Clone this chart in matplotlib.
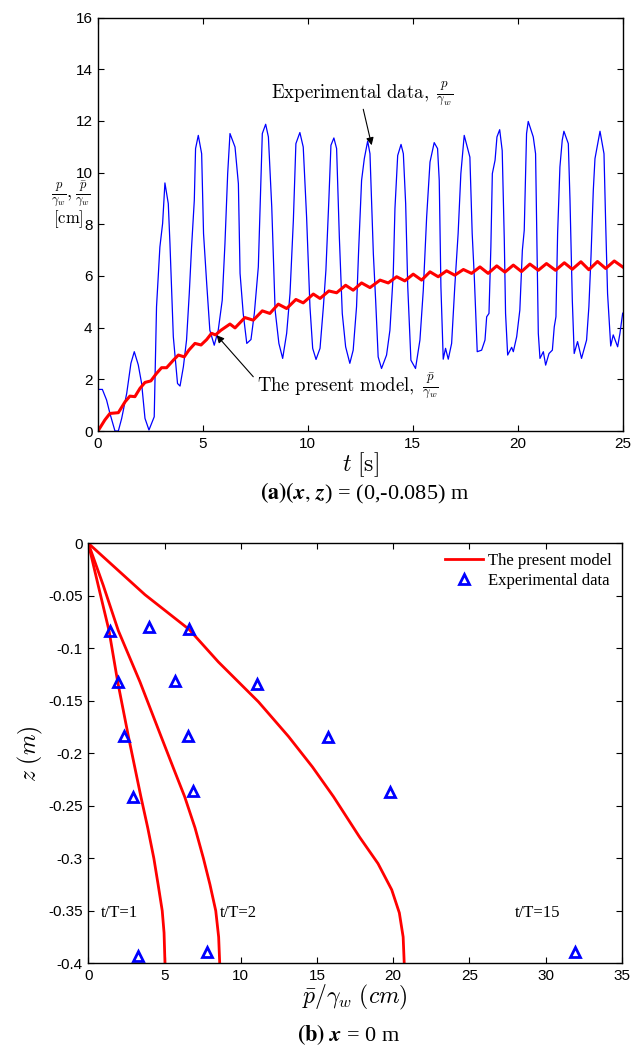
"""
Pore pressure response: (a) time history at (x, z) = (0, -0.085) m,
(b) vertical profiles of the residual pressure at x = 0 m.
Values read off the published figure.
"""

import matplotlib
matplotlib.use("Agg")
import matplotlib.pyplot as plt
from matplotlib.ticker import FixedLocator, FuncFormatter

# ---- (a) time history -----------------------------------------------------
# experimental p/gamma_w [cm]
t_exp = [0.00, 0.21, 0.41, 0.57, 0.81, 0.97, 1.13, 1.37, 1.57, 1.73, 1.92, 2.08,
         2.24, 2.43, 2.68, 2.79, 2.95, 3.08, 3.19, 3.35, 3.43, 3.59, 3.79, 3.91,
         4.07, 4.22, 4.35, 4.46, 4.59, 4.65, 4.78, 4.94, 5.03, 5.18, 5.33, 5.54,
         5.73, 5.92, 6.05, 6.18, 6.29, 6.53, 6.69, 6.77, 6.92, 7.09, 7.29, 7.45,
         7.64, 7.72, 7.83, 7.99, 8.12, 8.28, 8.44, 8.62, 8.80, 8.99, 9.15, 9.31,
         9.43, 9.62, 9.78, 9.94, 10.10, 10.23, 10.39, 10.58, 10.74, 10.86, 11.00,
         11.10, 11.24, 11.37, 11.50, 11.64, 11.80, 12.00, 12.16, 12.32, 12.42,
         12.56, 12.69, 12.85, 12.96, 13.12, 13.23, 13.35, 13.51, 13.75, 13.91,
         14.07, 14.15, 14.28, 14.44, 14.55, 14.66, 14.76, 14.91, 15.13, 15.34,
         15.50, 15.66, 15.82, 16.02, 16.18, 16.26, 16.34, 16.45, 16.56, 16.69,
         16.85, 17.00, 17.16, 17.29, 17.45, 17.72, 17.83, 17.93, 18.07, 18.28,
         18.44, 18.52, 18.63, 18.72, 18.79, 18.92, 19.01, 19.14, 19.26, 19.36,
         19.42, 19.52, 19.71, 19.79, 19.95, 20.10, 20.22, 20.31, 20.42, 20.50,
         20.74, 20.85, 20.93, 20.98, 21.06, 21.22, 21.33, 21.49, 21.65, 21.74,
         21.82, 21.90, 22.01, 22.12, 22.20, 22.41, 22.49, 22.60, 22.69, 22.85,
         23.04, 23.28, 23.39, 23.49, 23.60, 23.68, 23.92, 24.11, 24.19, 24.28,
         24.43, 24.55, 24.76, 24.87, 25.00]
p_exp = [1.61, 1.61, 1.20, 0.68, 0.00, 0.00, 0.49, 1.46, 2.62, 3.07, 2.56, 1.84,
         0.49, 0.04, 0.55, 4.81, 7.12, 8.03, 9.60, 8.80, 7.25, 3.65, 1.84, 1.74,
         2.49, 3.52, 5.32, 7.12, 8.93, 10.93, 11.44, 10.73, 7.64, 5.71, 3.90, 3.32,
         3.90, 5.06, 7.25, 9.96, 11.51, 10.99, 9.57, 6.10, 4.55, 3.39, 3.54, 4.55,
         6.35, 8.54, 11.51, 11.87, 11.38, 8.67, 4.68, 3.39, 2.81, 3.78, 5.32, 8.16,
         11.12, 11.55, 10.99, 8.28, 4.81, 3.20, 2.77, 3.20, 4.81, 6.22, 8.93,
         11.06, 11.34, 10.93, 7.51, 4.55, 3.26, 2.62, 3.13, 4.81, 7.00,
         9.70, 10.54, 11.22, 10.73, 6.87, 5.06, 2.87, 2.42, 2.94, 3.90,
         6.10, 8.61, 10.66, 11.09, 10.73, 8.80, 5.58, 2.74, 2.42, 3.52,
         5.45, 8.28, 10.41, 11.16, 10.93, 9.70, 5.58, 2.78, 3.20, 2.78,
         3.39, 5.58, 7.64, 9.96, 11.44, 10.60, 7.64, 5.97, 3.07, 3.13,
         3.52, 4.42, 4.55, 7.12, 9.96, 10.48, 11.38, 11.66, 10.85, 7.38,
         4.55, 2.94, 3.24, 3.07, 3.65, 4.68, 6.99, 7.77, 11.51, 11.98,
         11.38, 10.73, 6.35, 3.78, 2.81, 3.07, 2.55, 3.00, 3.13, 4.03,
         4.42, 7.64, 10.22, 11.25, 11.60, 11.12, 8.93, 5.06, 3.00, 3.46,
         2.81, 3.52, 4.81, 6.74, 9.31, 10.54, 11.60, 10.73, 8.03, 5.32,
         3.29, 3.72, 3.26, 3.78, 4.56]

# present model, residual pressure p_bar/gamma_w [cm]
t_model = [0.00, 0.33, 0.57, 0.97, 1.29, 1.52, 1.76, 2.00, 2.24, 2.52, 2.79, 3.03,
           3.27, 3.59, 3.83, 4.11, 4.33, 4.62, 4.91, 5.18, 5.41, 5.60, 5.86, 6.29,
           6.53, 7.00, 7.40, 7.83, 8.19, 8.59, 8.99, 9.43, 9.78, 10.26, 10.58,
           11.00, 11.37, 11.80, 12.16, 12.56, 12.96, 13.44, 13.83, 14.23, 14.62,
           15.02, 15.42, 15.82, 16.21, 16.61, 17.00, 17.41, 17.80, 18.20, 18.59,
           19.00, 19.39, 19.79, 20.18, 20.58, 20.98, 21.37, 21.80, 22.22, 22.60,
           23.01, 23.39, 23.80, 24.19, 24.60, 25.00]
p_model = [0.00, 0.43, 0.68, 0.71, 1.13, 1.35, 1.33, 1.65, 1.88, 1.94, 2.23, 2.45,
           2.45, 2.74, 2.94, 2.87, 3.13, 3.39, 3.33, 3.54, 3.78, 3.72, 3.90, 4.14,
           3.99, 4.39, 4.29, 4.65, 4.55, 4.91, 4.74, 5.09, 4.96, 5.30, 5.13,
           5.42, 5.35, 5.64, 5.45, 5.73, 5.55, 5.84, 5.73, 5.97, 5.81,
           6.07, 5.84, 6.16, 5.97, 6.20, 6.03, 6.25, 6.10, 6.35, 6.10,
           6.39, 6.15, 6.42, 6.17, 6.46, 6.22, 6.48, 6.22, 6.51, 6.26,
           6.55, 6.24, 6.56, 6.29, 6.58, 6.35]

# ---- (b) vertical profiles at x = 0 --------------------------------------
z_T1 = [0.0, -0.040, -0.0832, -0.132, -0.1838, -0.214, -0.2413, -0.271,
        -0.300, -0.325, -0.350, -0.371, -0.400]
x_T1 = [0.0, 0.65, 1.36, 1.93, 2.63, 3.06, 3.45, 3.90,
        4.30, 4.58, 4.85, 4.97, 5.03]
z_T2 = [0.0, -0.040, -0.0832, -0.132, -0.1838, -0.214, -0.2413, -0.271,
        -0.300, -0.325, -0.350, -0.375, -0.400]
x_T2 = [0.0, 0.98, 1.97, 3.39, 4.77, 5.58, 6.32, 7.00,
        7.55, 7.98, 8.36, 8.55, 8.62]
z_T15 = [0.0, -0.049, -0.082, -0.113, -0.151, -0.184, -0.213, -0.2413,
         -0.280, -0.305, -0.330, -0.352, -0.375, -0.400]
x_T15 = [0.0, 3.72, 6.61, 8.53, 11.16, 13.13, 14.70, 16.08,
         17.80, 19.00, 19.90, 20.40, 20.65, 20.72]

x_obs = [1.42, 3.98, 6.60, 1.97, 5.69, 11.08, 2.36, 6.52, 15.72, 2.91, 6.89, 19.78,
         3.28, 7.78, 31.93]
z_obs = [-0.0832, -0.0794, -0.0819, -0.1321, -0.1311, -0.1340, -0.1838, -0.1832,
         -0.1841, -0.2413, -0.2356, -0.2365, -0.3930, -0.3895, -0.3897]

profile_labels = ["t/T=1", "t/T=2", "t/T=15"]
profile_label_x = [0.83, 8.64, 28.0]

RED = "#ff0000"
BLUE = "#0000ff"

plt.rcParams["font.family"] = ["Liberation Sans", "DejaVu Sans"]
plt.rcParams["mathtext.fontset"] = "cm"
plt.rcParams["axes.unicode_minus"] = False
plt.rcParams["xtick.direction"] = "in"
plt.rcParams["ytick.direction"] = "in"
plt.rcParams["xtick.top"] = True
plt.rcParams["ytick.right"] = True


def style_axes(ax):
    for s in ax.spines.values():
        s.set_linewidth(1.0)
    ax.tick_params(labelsize=11, length=4, width=0.8, pad=4)


fig = plt.figure(figsize=(6.42, 10.5), dpi=100)

# ---------------- (a) ----------------
ax1 = fig.add_axes([0.1526, 0.5895, 0.8173, 0.3938])
ax1.plot(t_exp, p_exp, color=BLUE, lw=0.9)
ax1.plot(t_model, p_model, color=RED, lw=2.2)
ax1.set_xlim(0, 25)
ax1.set_ylim(0, 16)
ax1.set_xticks(range(0, 26, 5))
ax1.set_yticks(range(0, 17, 2))
style_axes(ax1)
ax1.set_xlabel(r"$t\ \mathrm{[s]}$", fontsize=17, labelpad=0)

arrow = dict(arrowstyle="-|>", color="k", lw=0.8, mutation_scale=11,
             shrinkA=0, shrinkB=0)
ax1.text(12.6, 13.0, r"$\mathrm{Experimental\ data,}\ \frac{p}{\gamma_w}$",
         fontsize=13.5, ha="center", va="center")
ax1.annotate("", xy=(13.04, 11.06), xytext=(12.64, 12.45), arrowprops=arrow)
ax1.text(11.9, 1.72, r"$\mathrm{The\ present\ model,}\ \frac{\bar{p}}{\gamma_w}$",
         fontsize=13.5, ha="center", va="center")
ax1.annotate("", xy=(5.65, 3.71), xytext=(7.40, 2.10), arrowprops=arrow)

fig.text(71 / 642, 1 - 194 / 1050, r"$\frac{p}{\gamma_w},\frac{\bar{p}}{\gamma_w}$",
         ha="center", va="center", fontsize=13)
fig.text(68 / 642, 1 - 219 / 1050, r"$\mathrm{[cm]}$",
         ha="center", va="center", fontsize=12)

fig.text(365 / 642, 1 - 493 / 1050,
         r"$\mathbf{(a)(}\boldsymbol{x},\, \boldsymbol{z}$) = (0,-0.085) m",
         ha="center", va="center", fontsize=16, family="Liberation Serif",
         math_fontfamily="stix")

# ---------------- (b) ----------------
ax2 = fig.add_axes([0.1375, 0.0826, 0.8313, 0.40])
ax2.plot(x_T1, z_T1, color=RED, lw=2.0, label="The present model")
ax2.plot(x_T2, z_T2, color=RED, lw=2.0)
ax2.plot(x_T15, z_T15, color=RED, lw=2.0)
ax2.plot(x_obs, z_obs, ls="none", marker="^", ms=6.5, mfc="none", mec=BLUE,
         mew=2.0, label="Experimental data")
ax2.set_xlim(0, 35)
ax2.set_ylim(-0.4, 0)
ax2.set_xticks(range(0, 36, 5))
yt = [-0.05 * k for k in range(9)]
ax2.yaxis.set_major_locator(FixedLocator(yt))
ax2.yaxis.set_major_formatter(FuncFormatter(lambda v, _: f"{v:g}" if abs(v) > 1e-9 else "0"))
style_axes(ax2)
ax2.set_xlabel(r"$\bar{p}/\gamma_w\ (cm)$", fontsize=17, labelpad=0)
ax2.set_ylabel(r"$z\ (m)$", fontsize=17, labelpad=2)

for lab, xl in zip(profile_labels, profile_label_x):
    ax2.text(xl, -0.352, lab, fontsize=12, family="Liberation Serif",
             ha="left", va="center")

ax2.legend(loc="upper right", frameon=False, prop={"family": "Liberation Serif", "size": 12},
           handlelength=2.3, handletextpad=0.3, labelspacing=0.2, borderaxespad=0.2)

fig.text(348 / 642, 1 - 1035 / 1050, r"$\mathbf{(b)}\ \boldsymbol{x}$ = 0 m",
         ha="center", va="center", fontsize=16, family="Liberation Serif",
         math_fontfamily="stix")

fig.savefig("out.png", dpi=100)
